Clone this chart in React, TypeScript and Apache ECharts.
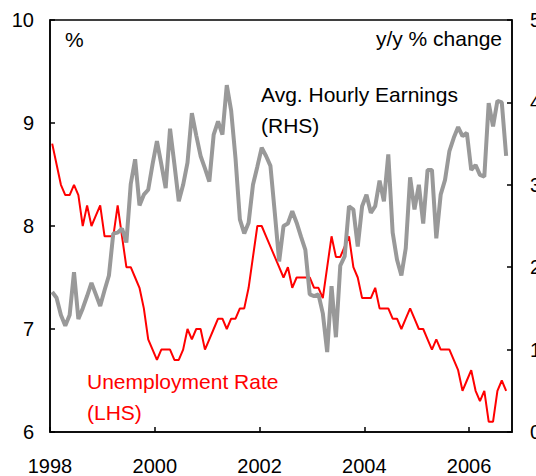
import React, { useEffect, useRef } from "react";
import * as echarts from "echarts";

// Monthly data, Jan 1998 .. Sep 2006
const startYear = 1998;

const unemploymentRate = [
  8.8, 8.6, 8.4, 8.3, 8.3, 8.4, 8.3, 8.0, 8.2, 8.0, 8.1, 8.2,
  7.9, 7.9, 7.9, 8.2, 7.9, 7.6, 7.6, 7.5, 7.4, 7.2, 6.9, 6.8,
  6.7, 6.8, 6.8, 6.8, 6.7, 6.7, 6.8, 7.0, 6.9, 7.0, 7.0, 6.8,
  6.9, 7.0, 7.1, 7.1, 7.0, 7.1, 7.1, 7.2, 7.2, 7.4, 7.7, 8.0,
  8.0, 7.9, 7.8, 7.7, 7.6, 7.5, 7.6, 7.4, 7.5, 7.5, 7.5, 7.5,
  7.4, 7.4, 7.3, 7.6, 7.9, 7.7, 7.7, 7.8, 7.9, 7.6, 7.5, 7.3,
  7.3, 7.3, 7.4, 7.2, 7.2, 7.2, 7.1, 7.1, 7.0, 7.1, 7.2, 7.1,
  7.0, 7.0, 6.9, 6.8, 6.9, 6.8, 6.8, 6.8, 6.7, 6.6, 6.4, 6.5,
  6.6, 6.4, 6.3, 6.4, 6.1, 6.1, 6.4, 6.5, 6.4,
];

const hourlyEarnings = [
  1.70, 1.63, 1.42, 1.29, 1.42, 1.94, 1.37, 1.50, 1.65, 1.81, 1.67, 1.53,
  1.72, 1.90, 2.41, 2.42, 2.47, 2.30, 3.01, 3.31, 2.75, 2.88, 2.94, 3.25,
  3.53, 3.25, 2.96, 3.68, 3.25, 2.80, 3.00, 3.27, 3.87, 3.60, 3.35, 3.20,
  3.04, 3.61, 3.77, 3.61, 4.21, 3.90, 3.32, 2.58, 2.41, 2.54, 3.00, 3.22,
  3.45, 3.35, 3.23, 2.66, 2.07, 2.50, 2.53, 2.68, 2.54, 2.37, 2.21, 1.67,
  1.65, 1.67, 1.44, 0.97, 1.77, 1.15, 2.02, 2.13, 2.74, 2.70, 2.25, 2.74,
  2.88, 2.66, 2.74, 3.05, 2.80, 3.37, 2.42, 2.09, 1.90, 2.23, 3.09, 2.70,
  3.00, 2.53, 3.18, 3.18, 2.35, 2.88, 3.06, 3.41, 3.57, 3.70, 3.59, 3.63,
  3.18, 3.24, 3.12, 3.10, 3.99, 3.71, 4.02, 4.00, 3.35,
];

const xTickLabels = ["1998", "2000", "2002", "2004", "2006"];
const xMin = 1998;
const xMax = 2006.82;

const FONT = "'Liberation Sans', Arial, sans-serif";

const monthPos = (i: number) => startYear + (i + 0.5) / 12;

export default function App() {
  const ref = useRef<HTMLDivElement>(null);

  useEffect(() => {
    document.body.style.margin = "0";
    if (!ref.current) return;
    const chart = echarts.init(ref.current, undefined, { renderer: "svg" });

    const axisCommon = {
      axisLine: { show: true, lineStyle: { color: "#000", width: 1.5 } },
      axisTick: { show: true, inside: true, length: 5, lineStyle: { color: "#000", width: 1.5 } },
      splitLine: { show: false },
    };

    chart.setOption({
      animation: false,
      grid: {
        left: 50,
        right: 24,
        top: 20,
        bottom: 44,
        show: true,
        borderColor: "#000",
        borderWidth: 1.5,
        containLabel: false,
        outerBoundsMode: "none",
      },
      xAxis: {
        type: "value",
        min: xMin,
        max: xMax,
        interval: 2,
        ...axisCommon,
        axisLabel: {
          color: "#000",
          fontSize: 20,
          fontFamily: FONT,
          margin: 24,
          showMaxLabel: false,
          formatter: (v: number) => {
            const s = String(Math.round(v));
            return Number.isInteger(v) && xTickLabels.includes(s) ? s : "";
          },
        },
      },
      yAxis: [
        {
          type: "value",
          position: "left",
          min: 6,
          max: 10,
          interval: 1,
          ...axisCommon,
          axisLabel: { color: "#000", fontSize: 20, fontFamily: FONT, margin: 16 },
        },
        {
          type: "value",
          position: "right",
          min: 0,
          max: 5,
          interval: 1,
          ...axisCommon,
          axisLabel: { color: "#000", fontSize: 20, fontFamily: FONT, margin: 18 },
        },
      ],
      series: [
        {
          name: "Unemployment Rate (LHS)",
          type: "line",
          yAxisIndex: 0,
          showSymbol: false,
          symbol: "none",
          lineStyle: { color: "#ff0000", width: 2 },
          data: unemploymentRate.map((v, i) => [monthPos(i), v]),
          z: 2,
        },
        {
          name: "Avg. Hourly Earnings (RHS)",
          type: "line",
          yAxisIndex: 1,
          showSymbol: false,
          symbol: "none",
          lineStyle: { color: "#999999", width: 4 },
          data: hourlyEarnings.map((v, i) => [monthPos(i), v]),
          z: 3,
        },
      ],
      graphic: [
        {
          type: "text",
          x: 65,
          y: 39,
          style: { text: "%", fill: "#000", fontSize: 21, fontFamily: FONT, align: "left", verticalAlign: "middle" },
        },
        {
          type: "text",
          x: 502,
          y: 38,
          style: { text: "y/y % change", fill: "#000", fontSize: 21, fontFamily: FONT, align: "right", verticalAlign: "middle" },
        },
        {
          type: "text",
          x: 261,
          y: 94.5,
          style: { text: "Avg. Hourly Earnings", fill: "#000", fontSize: 21, fontFamily: FONT, align: "left", verticalAlign: "middle" },
        },
        {
          type: "text",
          x: 261,
          y: 125,
          style: { text: "(RHS)", fill: "#000", fontSize: 21, fontFamily: FONT, align: "left", verticalAlign: "middle" },
        },
        {
          type: "text",
          x: 87,
          y: 381,
          style: { text: "Unemployment Rate", fill: "#ff0000", fontSize: 21, fontFamily: FONT, align: "left", verticalAlign: "middle" },
        },
        {
          type: "text",
          x: 87,
          y: 412,
          style: { text: "(LHS)", fill: "#ff0000", fontSize: 21, fontFamily: FONT, align: "left", verticalAlign: "middle" },
        },
      ],
    });

    return () => chart.dispose();
  }, []);

  return <div ref={ref} style={{ width: 536, height: 476 }} />;
}
